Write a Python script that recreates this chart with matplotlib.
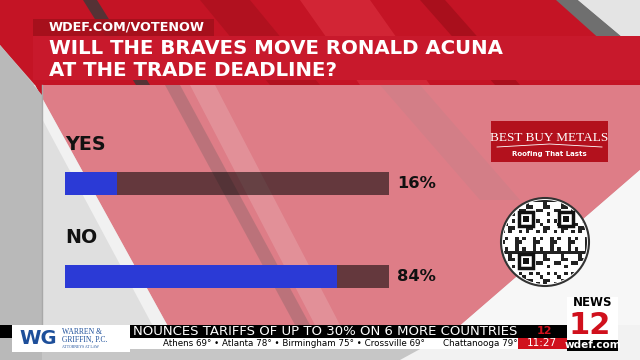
import numpy as np
import matplotlib
matplotlib.use("Agg")
import matplotlib.pyplot as plt
from matplotlib.patches import Polygon, Rectangle, Circle

# poll data
answers = ["YES", "NO"]
percents = [16, 84]
pct_labels = ["16%", "84%"]

site_text = "WDEF.COM/VOTENOW"
title_lines = ["WILL THE BRAVES MOVE RONALD ACUNA", "AT THE TRADE DEADLINE?"]
ticker_top = "NOUNCES TARIFFS OF UP TO 30% ON 6 MORE COUNTRIES"
ticker_temps = "Athens 69° • Atlanta 78° • Birmingham 75° • Crossville 69°"
ticker_local = "Chattanooga 79°"
clock = "11:27"

W, H = 640, 360
fig = plt.figure(figsize=(6.4, 3.6), dpi=100)
bg = fig.add_axes([0, 0, 1, 1])
bg.set_xlim(0, W)
bg.set_ylim(H, 0)
bg.axis("off")


def poly(pts, color, alpha=1.0, z=1):
    bg.add_patch(Polygon(pts, closed=True, facecolor=color, edgecolor="none",
                         alpha=alpha, zorder=z))


# background: gray base, red chevron, white on the right
poly([(0, 0), (W, 0), (W, H), (0, H)], "#c6c6c6")
poly([(0, 0), (565, 0), (640, 75), (640, 170), (455, 330), (170, 330),
      (35, 85), (0, 45)], "#c41425")
poly([(300, 0), (370, 0), (430, 85), (360, 85)], "#d62a3a", 0.8)
poly([(420, 0), (445, 0), (520, 85), (495, 85)], "#9e0d19", 0.7)
poly([(200, 0), (250, 0), (320, 85), (270, 85)], "#a50f1c", 0.6)
poly([(83, 0), (97, 0), (150, 85), (136, 85)], "#3a3a3a", 0.8)
poly([(24, 85), (35, 85), (170, 330), (155, 330)], "#f4f4f4", 0.7)
poly([(556, 0), (578, 0), (640, 52), (640, 75)], "#6f6f6f")
poly([(578, 0), (640, 0), (640, 52)], "#e4e4e4")
poly([(640, 170), (640, H), (400, H), (455, 330)], "#f2f2f2")
poly([(0, 45), (42, 95), (42, H), (0, H)], "#b9b9b9")

# translucent panel over the background
bg.add_patch(Rectangle((42, 85), 598, 240, facecolor="white", alpha=0.45,
                       edgecolor="none", zorder=2))
bg.plot([42, 42], [85, 325], color="#a8a8a8", lw=1, zorder=2)
poly([(165, 85), (180, 85), (310, 325), (295, 325)], "#555555", 0.25, 3)
poly([(190, 85), (215, 85), (340, 325), (315, 325)], "#ffffff", 0.15, 3)
poly([(380, 85), (420, 85), (520, 200), (480, 200)], "#888888", 0.12, 3)

# header
bg.add_patch(Rectangle((33, 19), 181, 17, facecolor="#a3101c", alpha=0.9,
                       edgecolor="none", zorder=4))
bg.text(49, 27.5, site_text, color="white", fontsize=9.2, family="DejaVu Sans",
        fontweight="bold", va="center", ha="left", zorder=5)
bg.add_patch(Rectangle((33, 36), 607, 44, facecolor="#c8192c",
                       edgecolor="none", zorder=4))
for i, line in enumerate(title_lines):
    bg.text(49, 48 + 22 * i, line, color="white", fontsize=14.2,
            family="DejaVu Sans", fontweight="bold", va="center", ha="left",
            zorder=5)

# sponsor logo
bg.add_patch(Rectangle((491, 121), 117, 41, facecolor="#b3111d",
                       edgecolor="none", zorder=4))
bg.text(549.5, 138, "BEST BUY METALS", color="white", fontsize=9.5,
        family="Liberation Serif", ha="center", va="center", zorder=5)
bg.text(549.5, 154, "Roofing That Lasts", color="white", fontsize=5,
        family="DejaVu Sans", fontweight="bold", ha="center", va="center",
        zorder=5)
bg.plot([497, 549.5, 602], [147, 144, 147], color="white", lw=0.6, zorder=5)

# QR code disc
cx, cy, r = 545, 242, 44
bg.add_patch(Circle((cx, cy), r, facecolor="white", edgecolor="#333333",
                    lw=1.5, zorder=4))
clip = Circle((cx, cy), r - 2, transform=bg.transData)
n = 25
cell = 2 * r / n
for i in range(n):
    for j in range(n):
        if (i * 7 + j * 3 + (i * j) % 5) % 3 == 0:
            sq = Rectangle((cx - r + j * cell, cy - r + i * cell), cell, cell,
                           facecolor="#222222", edgecolor="none", zorder=5)
            bg.add_patch(sq)
            sq.set_clip_path(clip)
for fx, fy in [(526, 219), (566, 219), (526, 261)]:
    bg.add_patch(Rectangle((fx - 7, fy - 7), 14, 14, facecolor="white",
                           edgecolor="#111111", lw=2.5, zorder=6))
    bg.add_patch(Rectangle((fx - 3, fy - 3), 6, 6, facecolor="#111111",
                           edgecolor="none", zorder=7))

# ticker
bg.add_patch(Rectangle((0, 325), 568, 13, facecolor="black", zorder=4))
bg.add_patch(Rectangle((130, 338), 438, 11, facecolor="white", zorder=4))
bg.add_patch(Rectangle((12, 325), 118, 27, facecolor="white", zorder=5))
bg.text(133, 331.5, ticker_top, color="white", fontsize=9.5,
        family="Liberation Sans Narrow", va="center", ha="left", zorder=6)
bg.text(163, 343.5, ticker_temps, color="black", fontsize=6.3,
        family="Liberation Sans Narrow", va="center", ha="left", zorder=6)
bg.text(443, 343.5, ticker_local, color="black", fontsize=6.3,
        family="Liberation Sans Narrow", va="center", ha="left", zorder=6)
bg.add_patch(Rectangle((518, 338), 50, 11, facecolor="#d0101c", zorder=6))
bg.text(542, 343.5, clock, color="white", fontsize=7.5,
        family="Liberation Sans Narrow", va="center", ha="center", zorder=7)
bg.text(544, 331.5, "12", color="#d0101c", fontsize=8, family="DejaVu Sans",
        fontweight="bold", va="center", ha="center", zorder=7)

# law firm logo
bg.text(38, 338.5, "WG", color="#1d4f9a", fontsize=14, family="DejaVu Sans",
        fontweight="bold", va="center", ha="center", zorder=6)
bg.text(62, 332, "WARREN &", color="#1d4f9a", fontsize=5.5,
        family="Liberation Serif", va="center", ha="left", zorder=6)
bg.text(62, 340, "GRIFFIN, P.C.", color="#1d4f9a", fontsize=5.5,
        family="Liberation Serif", va="center", ha="left", zorder=6)
bg.text(62, 347, "ATTORNEYS AT LAW", color="#1d4f9a", fontsize=2.8,
        family="Liberation Serif", va="center", ha="left", zorder=6)

# station logo
bg.add_patch(Rectangle((567, 297), 51, 43, facecolor="white", zorder=6))
bg.text(592.5, 303, "NEWS", color="black", fontsize=8.5, family="DejaVu Sans",
        fontweight="bold", va="center", ha="center", zorder=7)
bg.text(590, 325, "12", color="#d0101c", fontsize=22, family="DejaVu Sans",
        fontweight="bold", va="center", ha="center", zorder=7)
bg.add_patch(Rectangle((567, 340), 51, 11, facecolor="black", zorder=6))
bg.text(592.5, 345.5, "wdef.com", color="white", fontsize=7.5,
        family="Liberation Sans Narrow", fontweight="bold", va="center",
        ha="center", zorder=7)

# bars
bar_left, bar_right = 65, 389
first_center, spacing, bar_h = 183.5, 93.0, 23.0
ymin, ymax = -0.6, 1.6
top_px = first_center + ymin * spacing
bot_px = first_center + ymax * spacing
ax = fig.add_axes([bar_left / W, 1 - bot_px / H, (bar_right - bar_left) / W,
                   (bot_px - top_px) / H])
ax.set_xlim(0, 100)
ax.set_ylim(ymax, ymin)
ax.axis("off")
ax.patch.set_alpha(0)

pos = np.arange(len(answers))
ax.barh(pos, [100] * len(pos), height=bar_h / spacing, color="black",
        alpha=0.55, linewidth=0)
ax.barh(pos, percents, height=bar_h / spacing, color="#2b3ad6", linewidth=0)
for p, name, lab in zip(pos, answers, pct_labels):
    ax.text(0, p - 0.42, name, color="#111111", fontsize=13.7,
            family="DejaVu Sans", fontweight="bold", va="center", ha="left",
            clip_on=False)
    ax.text(102.6, p, lab, color="#111111", fontsize=11.7,
            family="DejaVu Sans", fontweight="bold", va="center", ha="left",
            clip_on=False)

fig.savefig("out.png", dpi=100)
